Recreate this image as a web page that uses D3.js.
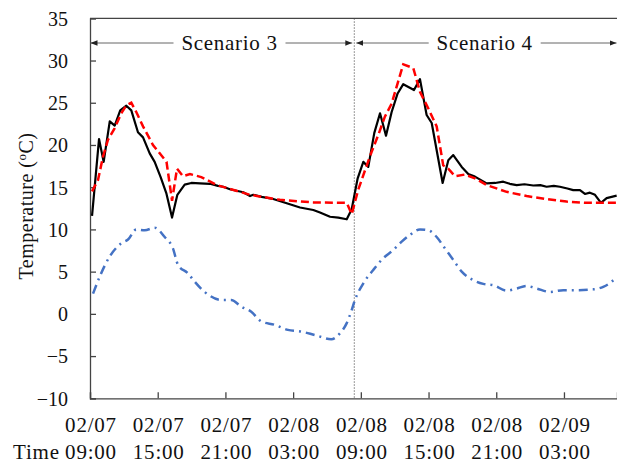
<!DOCTYPE html>
<html>
<head>
<meta charset="utf-8">
<script src="https://cdn.jsdelivr.net/npm/d3@7"></script>
<style>
  html, body { margin: 0; padding: 0; background: #fff; }
  svg text { font-family: "Liberation Serif", "Times New Roman", serif; fill: #111; }
</style>
</head>
<body>
<svg id="chart" width="617" height="470"></svg>
<script>
// Hours elapsed since 02/07 09:00
const measuredHours = [0.18,0.80,1.21,1.75,2.19,2.68,3.22,3.66,4.25,4.70,5.29,5.73,6.26,6.76,7.27,7.74,8.39,8.98,9.75,10.63,11.34,11.81,12.40,13.58,14.18,14.47,15.21,16.24,17.43,18.61,19.79,20.38,21.27,22.00,22.75,23.19,23.72,24.22,24.66,25.19,25.70,26.23,26.73,27.26,27.76,28.71,29.24,29.83,30.28,31.25,31.75,32.19,32.94,33.52,34.11,35.15,35.90,36.62,37.20,37.81,38.50,39.28,39.90,40.46,41.10,41.64,42.30,42.82,43.42,43.86,44.30,44.75,45.28,45.78,46.67];
const measuredTemp  = [11.6,20.7,18.0,22.8,22.3,24.1,24.65,24.1,21.5,20.9,19.0,18.0,16.2,14.3,11.4,14.1,15.3,15.5,15.45,15.4,15.15,15.05,14.75,14.4,13.95,14.1,13.85,13.6,13.1,12.6,12.3,12.0,11.5,11.4,11.2,12.4,16.05,18.0,17.4,21.4,23.75,21.1,23.9,26.1,27.2,26.5,27.8,23.55,22.6,15.5,18.2,18.8,17.4,16.55,16.25,15.45,15.5,15.65,15.4,15.25,15.35,15.2,15.25,15.05,15.15,15.05,14.85,14.65,14.65,14.2,14.35,14.1,13.15,13.7,14.0];

const simulatedHours = [0.18,0.71,1.15,1.59,2.19,2.77,3.22,3.66,4.10,4.70,5.58,6.78,7.27,7.71,8.24,8.86,9.86,11.25,14.18,16.83,19.79,22.75,23.19,23.77,24.37,24.96,25.55,26.13,26.73,27.26,27.76,28.65,29.24,29.97,30.72,31.30,31.75,32.34,33.23,34.11,35.15,36.92,38.69,40.46,42.23,44.00,46.67];
const simulatedTemp  = [14.5,15.85,18.6,20.6,22.0,23.75,24.7,25.0,23.9,22.2,20.0,18.0,13.4,17.2,16.3,16.55,16.2,15.25,14.1,13.5,13.2,13.15,11.8,14.7,17.0,19.2,21.2,23.35,24.9,27.3,29.55,29.1,26.3,24.35,22.2,17.6,17.2,16.3,16.5,16.05,15.25,14.45,13.95,13.6,13.3,13.15,13.15];

const outdoorHours = [0.27,0.86,1.75,2.77,3.37,4.10,4.85,5.73,6.62,7.35,7.80,8.68,9.28,10.16,11.63,12.51,13.41,14.29,15.18,16.37,17.54,18.72,19.91,21.38,22.15,22.75,23.19,23.48,24.22,25.10,25.99,26.87,27.62,28.35,29.24,29.97,30.72,31.45,32.19,32.94,33.96,34.85,35.73,36.92,37.81,38.69,39.58,40.76,41.94,43.12,44.60,45.48,46.22,46.67];
const outdoorTemp  = [2.4,4.4,6.8,8.35,8.8,10.0,9.9,10.2,9.1,7.75,5.8,4.8,3.8,2.6,1.65,1.65,0.85,0.25,-0.9,-1.3,-1.9,-2.1,-2.5,-3.0,-2.3,-1.1,0.45,1.65,3.6,5.2,6.6,7.55,8.55,9.35,10.0,9.9,9.1,7.75,6.4,5.0,4.0,3.55,3.4,2.75,3.0,3.3,3.0,2.6,2.8,2.8,2.9,3.2,3.8,4.4];

const tickHours = [0, 6, 12, 18, 24, 30, 36, 42];
const tickDates = ["02/07","02/07","02/07","02/08","02/08","02/08","02/08","02/09"];
const tickTimes = ["09:00","15:00","21:00","03:00","09:00","15:00","21:00","03:00"];
const yTicks = [-10,-5,0,5,10,15,20,25,30,35];

const scenarioNames = ["Scenario 3", "Scenario 4"];
const scenarioBounds = [[0, 23.42], [23.42, 46.7]];
const dividerHour = 23.42;

const svg = d3.select("#chart");
const plotLeft = 90, plotRight = 617, plotTop = 18.3, plotBottom = 398.3;

const x = d3.scaleLinear().domain([0, 46.7]).range([plotLeft, plotRight]);
const y = d3.scaleLinear().domain([-10, 35]).range([plotBottom, plotTop]);
const axisColor = "#444";

// Divider between the two scenarios
svg.append("line")
  .attr("x1", x(dividerHour)).attr("x2", x(dividerHour))
  .attr("y1", plotTop).attr("y2", plotBottom)
  .attr("stroke", "#777").attr("stroke-width", 1)
  .attr("stroke-dasharray", "1.5,1.5");

// Top frame line
svg.append("line")
  .attr("x1", plotLeft).attr("x2", plotRight).attr("y1", plotTop).attr("y2", plotTop)
  .attr("stroke", axisColor).attr("stroke-width", 1.3);

// Y axis
const yAxis = d3.axisLeft(y).tickValues(yTicks).tickSize(-6).tickPadding(22).tickFormat(d3.format("d"));
const gy = svg.append("g").attr("transform", `translate(${plotLeft},0)`).call(yAxis);
gy.select(".domain").attr("stroke", axisColor).attr("stroke-width", 1.3);
gy.selectAll(".tick line").attr("stroke", axisColor).attr("stroke-width", 1.3);
gy.selectAll(".tick text").attr("font-size", 20).attr("fill", "#111")
  .attr("font-family", "Liberation Serif, serif").attr("dy", "0.34em");

// X axis
const xAxis = d3.axisBottom(x).tickValues(tickHours).tickSize(-6).tickFormat("");
const gx = svg.append("g").attr("transform", `translate(0,${plotBottom})`).call(xAxis);
gx.select(".domain").attr("stroke", axisColor).attr("stroke-width", 1.3);
gx.selectAll(".tick line").attr("stroke", axisColor).attr("stroke-width", 1.3);

const xlab = svg.append("g").attr("font-size", 21).attr("letter-spacing", 0.8);
tickHours.forEach((h, i) => {
  xlab.append("text").attr("x", x(h) + 1).attr("y", 432).attr("text-anchor", "middle").text(tickDates[i]);
  xlab.append("text").attr("x", x(h) + 1).attr("y", 459).attr("text-anchor", "middle").text(tickTimes[i]);
});
xlab.append("text").attr("x", 13).attr("y", 459).text("Time");

// Y axis title
const yt = svg.append("text")
  .attr("transform", "translate(33,206) rotate(-90)")
  .attr("text-anchor", "middle").attr("font-size", 20).attr("letter-spacing", 0.5);
yt.append("tspan").text("Temperature (");
yt.append("tspan").attr("font-size", 13).attr("dy", -7).text("o");
yt.append("tspan").attr("dy", 7).text("C)");

// Scenario spans with arrows
const defs = svg.append("defs");
defs.append("marker").attr("id", "arrowHead").attr("viewBox", "0 0 10 10")
  .attr("refX", 10).attr("refY", 5).attr("markerWidth", 7).attr("markerHeight", 7)
  .attr("markerUnits", "userSpaceOnUse").attr("orient", "auto")
  .append("path").attr("d", "M0,1 L10,5 L0,9 Z").attr("fill", "#222");

const spanY = 43;
const textCenters = [229.5, 484.7];
scenarioBounds.forEach((b, i) => {
  const x0 = x(b[0]) + (i === 0 ? 0.5 : 2), x1 = (i === 0 ? x(b[1]) - 2 : x(b[1]) - 0.5);
  svg.append("text").attr("x", textCenters[i]).attr("y", spanY + 7)
    .attr("text-anchor", "middle").attr("font-size", 21).attr("letter-spacing", 0.7)
    .text(scenarioNames[i]);
  const half = 56;
  svg.append("line").attr("x1", textCenters[i] - half).attr("x2", x0)
    .attr("y1", spanY).attr("y2", spanY).attr("stroke", "#666").attr("stroke-width", 1)
    .attr("marker-end", "url(#arrowHead)");
  svg.append("line").attr("x1", textCenters[i] + half).attr("x2", x1)
    .attr("y1", spanY).attr("y2", spanY).attr("stroke", "#666").attr("stroke-width", 1)
    .attr("marker-end", "url(#arrowHead)");
});

// Series
const line = d3.line().x(d => x(d[0])).y(d => y(d[1]));
const smooth = d3.line().x(d => x(d[0])).y(d => y(d[1])).curve(d3.curveMonotoneX);

svg.append("path").datum(d3.zip(outdoorHours, outdoorTemp))
  .attr("d", smooth).attr("fill", "none").attr("stroke", "#4472C4")
  .attr("stroke-width", 2.5).attr("stroke-dasharray", "9,5,2,5");

svg.append("path").datum(d3.zip(measuredHours, measuredTemp))
  .attr("d", line).attr("fill", "none").attr("stroke", "#000")
  .attr("stroke-width", 2.2).attr("stroke-linejoin", "round");

svg.append("path").datum(d3.zip(simulatedHours, simulatedTemp))
  .attr("d", line).attr("fill", "none").attr("stroke", "#FF0000")
  .attr("stroke-width", 2.5).attr("stroke-dasharray", "8,4");
</script>
</body>
</html>
